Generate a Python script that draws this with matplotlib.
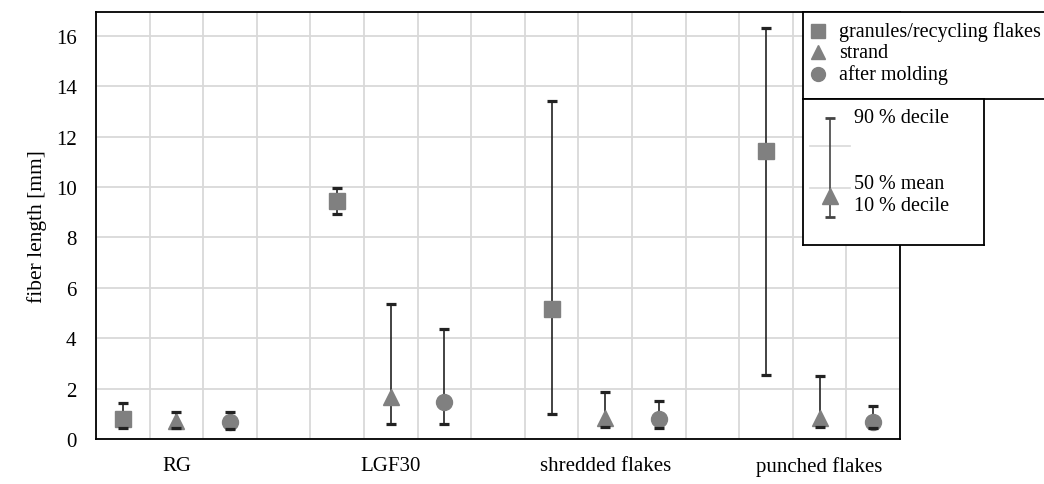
import numpy as np
import matplotlib
matplotlib.use("Agg")
import matplotlib.pyplot as plt

plt.rcParams['font.family'] = ['Liberation Serif', 'DejaVu Serif']

# data
categories = ['RG', 'LGF30', 'shredded flakes', 'punched flakes']
series = ['granules/recycling flakes', 'strand', 'after molding']
markers = ['s', '^', 'o']

mean_granules = [0.78, 9.45, 5.15, 11.45]
p90_granules = [1.42, 9.95, 13.4, 16.3]
p10_granules = [0.42, 8.95, 1.0, 2.55]

mean_strand = [0.7, 1.65, 0.85, 0.85]
p90_strand = [1.08, 5.35, 1.88, 2.52]
p10_strand = [0.42, 0.6, 0.48, 0.48]

mean_molding = [0.67, 1.48, 0.78, 0.68]
p90_molding = [1.07, 4.38, 1.52, 1.3]
p10_molding = [0.38, 0.58, 0.45, 0.45]

means = [mean_granules, mean_strand, mean_molding]
p90s = [p90_granules, p90_strand, p90_molding]
p10s = [p10_granules, p10_strand, p10_molding]

grey = '#808080'
fs = 15
W, H = 1044, 485
fig = plt.figure(figsize=(W / 100, H / 100), dpi=100)
ax = fig.add_axes([96 / W, 1 - 440 / H, (900 - 96) / W, (440 - 13) / H])

# each category takes 4 columns (3 series + a gap)
for s in range(3):
    x = np.arange(len(categories)) * 4 + s + 0.5
    m = np.array(means[s])
    lo = m - np.array(p10s[s])
    hi = np.array(p90s[s]) - m
    eb = ax.errorbar(x, m, yerr=[lo, hi], fmt='none', ecolor='#222222',
                     elinewidth=1.2, capsize=3.9, capthick=2.3, zorder=2)
    for c in eb[1]:
        c.set_zorder(3)
    ax.plot(x, m, linestyle='none', marker=markers[s], color=grey,
            markersize=11 if s == 0 else 11.5, zorder=2.5)

ax.set_xlim(0, 15)
ax.set_ylim(0, 16.95)
ax.set_yticks(np.arange(0, 17, 2))
ax.set_xticks(np.arange(len(categories)) * 4 + 1.5)
ax.set_xticklabels(categories)
ax.set_xticks(np.arange(0, 16, 1), minor=True)
ax.grid(True, which='minor', axis='x', color='#d9d9d9', linewidth=1.3)
ax.grid(True, which='major', axis='y', color='#d9d9d9', linewidth=1.3)
ax.set_axisbelow(True)
ax.tick_params(axis='both', which='both', length=0, labelsize=fs)
ax.tick_params(axis='y', pad=14)
ax.tick_params(axis='x', pad=12)
for sp in ax.spines.values():
    sp.set_linewidth(1.3)
    sp.set_color('black')
ax.set_ylabel('fiber length [mm]', fontsize=fs + 0.5, labelpad=6)

# legend 1: series markers (box runs off the right edge of the figure)
kax = fig.add_axes([803 / W, 1 - 100 / H, 250 / W, 87 / H])
kax.set_xlim(0, 1)
kax.set_ylim(0, 1)
kax.set_xticks([])
kax.set_yticks([])
for sp in kax.spines.values():
    sp.set_linewidth(1.3)
    sp.set_color('black')
key_y = [0.78, 0.54, 0.29]
for name, mk, ky in zip(series, markers, key_y):
    kax.plot([0.06], [ky], linestyle='none', marker=mk, color=grey,
             markersize=10)
    kax.text(0.145, ky, name, va='center', ha='left', fontsize=fs - 0.5)

# legend 2: error bar explanation
lax = fig.add_axes([803 / W, 1 - 246 / H, 181 / W, 146 / H])
lax.set_xlim(0, 1)
lax.set_ylim(0, 1)
lax.set_xticks([])
lax.set_yticks([])
for sp in lax.spines.values():
    sp.set_linewidth(1.3)
    sp.set_color('black')
lax.plot([0.04, 0.26], [0.68, 0.68], color='#d9d9d9', lw=1.2)
lax.plot([0.04, 0.26], [0.39, 0.39], color='#d9d9d9', lw=1.2)
lax.errorbar([0.15], [0.335], yerr=[[0.145], [0.535]], fmt='none',
             ecolor='#444444', elinewidth=1.2, capsize=3.9, capthick=2.0)
lax.plot([0.15], [0.335], linestyle='none', marker='^', color=grey,
         markersize=11, zorder=2.5)
lax.text(0.28, 0.87, '90 % decile', va='center', ha='left', fontsize=fs - 0.5)
lax.text(0.28, 0.42, '50 % mean', va='center', ha='left', fontsize=fs - 0.5)
lax.text(0.28, 0.27, '10 % decile', va='center', ha='left', fontsize=fs - 0.5)

fig.savefig('out.png', dpi=100)
